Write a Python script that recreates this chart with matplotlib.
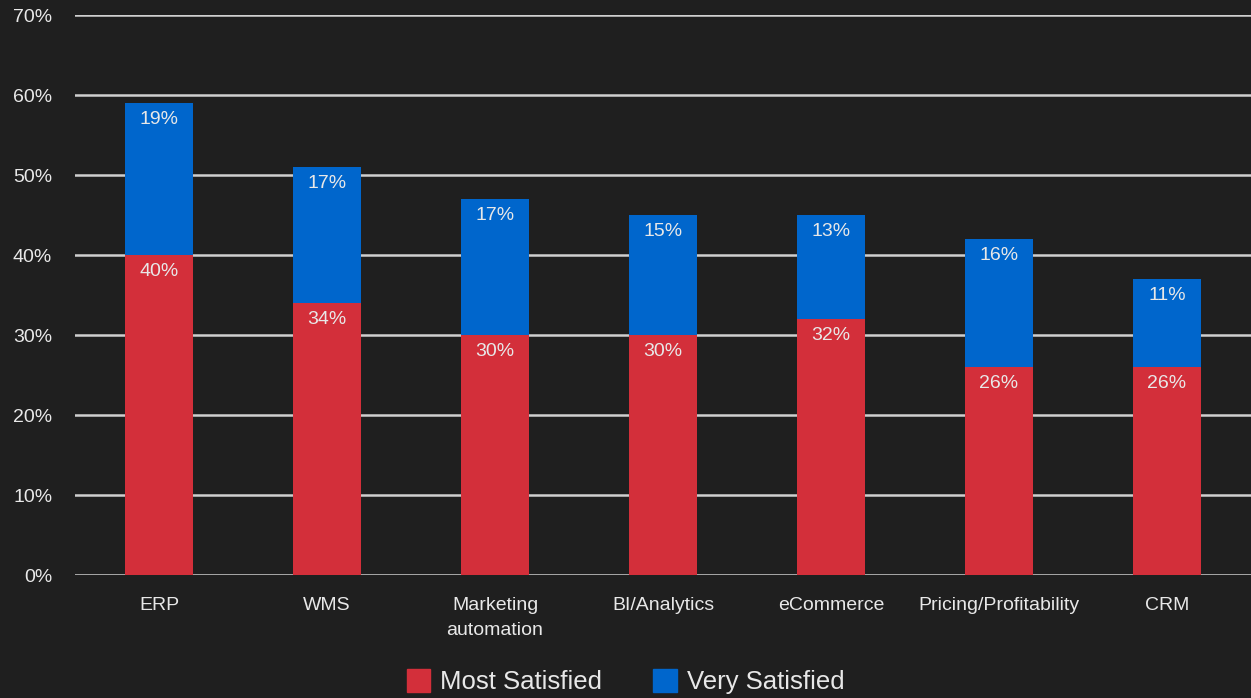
import matplotlib
matplotlib.use("Agg")
import matplotlib.pyplot as plt
from matplotlib.patches import Patch

plt.rcParams['font.family'] = ['Liberation Sans', 'DejaVu Sans']

categories = ["ERP", "WMS", "Marketing\nautomation", "BI/Analytics",
              "eCommerce", "Pricing/Profitability", "CRM"]
most_satisfied = [40, 34, 30, 30, 32, 26, 26]
very_satisfied = [19, 17, 17, 15, 13, 16, 11]
y_ticks = [0, 10, 20, 30, 40, 50, 60, 70]
series_names = ["Most Satisfied", "Very Satisfied"]

bg = "#1f1f1f"
red = "#d32f3a"
blue = "#0066cc"
text_c = "#e8e8e8"
grid_c = "#cfcfcf"

fig = plt.figure(figsize=(12.51, 6.98), dpi=100, facecolor=bg)
ax = fig.add_axes([0.06, 0.176, 0.94, 0.8025], facecolor=bg)

x = list(range(len(categories)))
w = 0.405
ax.bar(x, most_satisfied, width=w, color=red, zorder=3)
ax.bar(x, very_satisfied, width=w, bottom=most_satisfied, color=blue, zorder=3)

for xi, m, v in zip(x, most_satisfied, very_satisfied):
    ax.annotate(f"{m}%", (xi, m), xytext=(0, -11.5), textcoords="offset points",
                ha="center", va="center", color=text_c, fontsize=14, zorder=4)
    ax.annotate(f"{v}%", (xi, m + v), xytext=(0, -11.5), textcoords="offset points",
                ha="center", va="center", color=text_c, fontsize=14, zorder=4)

ax.set_xlim(-0.5, 6.5)
ax.set_ylim(0, 70)
ax.set_yticks(y_ticks)
ax.set_yticklabels([f"{t}%" for t in y_ticks])
ax.set_xticks(x)
ax.set_xticklabels(categories, linespacing=1.55)
ax.tick_params(axis="both", length=0, colors=text_c, labelsize=14)
ax.tick_params(axis="y", pad=16.5)
ax.tick_params(axis="x", pad=16)
for lbl in ax.get_yticklabels():
    lbl.set_horizontalalignment("right")
ax.yaxis.grid(True, color=grid_c, linewidth=1.8, zorder=0)
ax.set_axisbelow(True)
for s in ax.spines.values():
    s.set_visible(False)

handles = [Patch(color=red), Patch(color=blue)]
fig.legend(handles, series_names, loc="center", bbox_to_anchor=(0.5, 0.024),
           ncol=2, frameon=False, fontsize=18.5, labelcolor=text_c,
           handlelength=0.9, handleheight=1.0, handletextpad=0.4, columnspacing=2.0)

fig.savefig("out.png", dpi=100, facecolor=bg)
